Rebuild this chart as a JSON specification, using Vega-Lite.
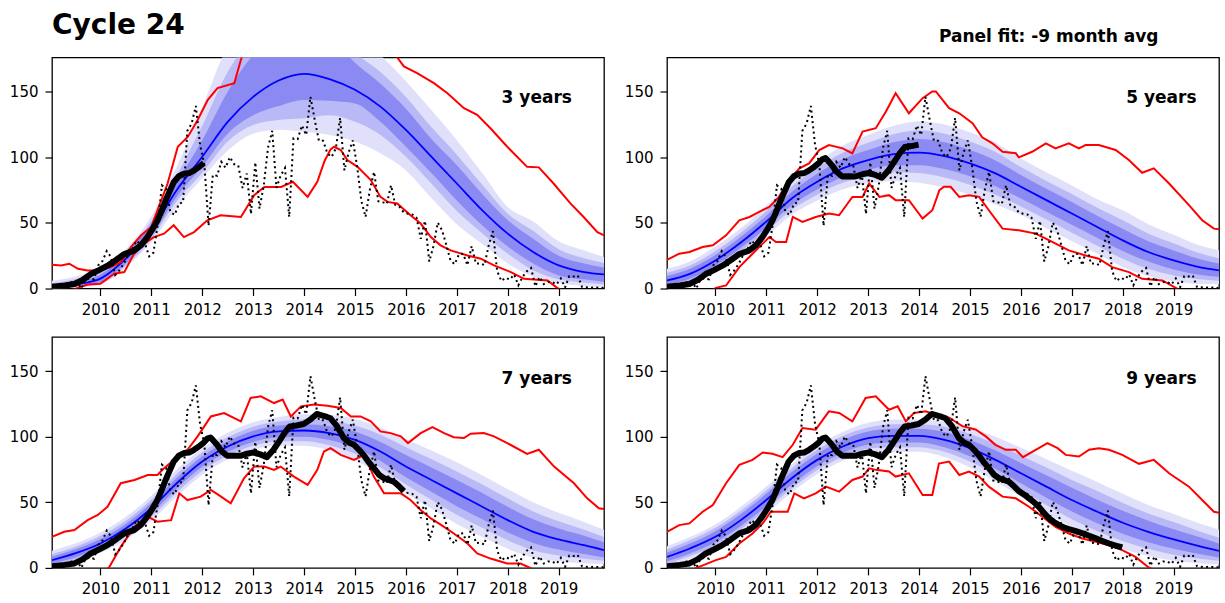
{
"$schema": "https://vega.github.io/schema/vega-lite/v6.json",
"background": "white",
"padding": {"left": 8, "top": 10.5, "right": 0, "bottom": 0},
"columns": 2,
"spacing": {"row": 48.4, "column": 63},
"bounds": "flush",
"datasets": {
"mon": [
{"t":2009.042,"v":2.2},{"t":2009.125,"v":2.3},{"t":2009.208,"v":1.2},{"t":2009.292,"v":1.3},{"t":2009.375,"v":4.8},{"t":2009.458,"v":4.8},{"t":2009.542,"v":5.3},{"t":2009.625,"v":0.0},{"t":2009.708,"v":7.0},{"t":2009.792,"v":7.7},{"t":2009.875,"v":7.0},{"t":2009.958,"v":17.7},
{"t":2010.042,"v":21.0},{"t":2010.125,"v":28.5},{"t":2010.208,"v":24.0},{"t":2010.292,"v":10.4},{"t":2010.375,"v":13.9},{"t":2010.458,"v":18.8},{"t":2010.542,"v":25.2},{"t":2010.625,"v":29.6},{"t":2010.708,"v":36.4},{"t":2010.792,"v":33.6},{"t":2010.875,"v":34.4},{"t":2010.958,"v":24.5},
{"t":2011.042,"v":27.3},{"t":2011.125,"v":48.3},{"t":2011.208,"v":78.6},{"t":2011.292,"v":76.1},{"t":2011.375,"v":58.2},{"t":2011.458,"v":56.1},{"t":2011.542,"v":64.5},{"t":2011.625,"v":65.8},{"t":2011.708,"v":120.1},{"t":2011.792,"v":125.7},{"t":2011.875,"v":139.1},{"t":2011.958,"v":109.3},
{"t":2012.042,"v":94.4},{"t":2012.125,"v":47.8},{"t":2012.208,"v":86.6},{"t":2012.292,"v":85.9},{"t":2012.375,"v":96.5},{"t":2012.458,"v":92.0},{"t":2012.542,"v":100.1},{"t":2012.625,"v":94.8},{"t":2012.708,"v":93.7},{"t":2012.792,"v":76.5},{"t":2012.875,"v":87.6},{"t":2012.958,"v":56.8},
{"t":2013.042,"v":96.1},{"t":2013.125,"v":60.9},{"t":2013.208,"v":78.3},{"t":2013.292,"v":107.3},{"t":2013.375,"v":120.2},{"t":2013.458,"v":76.7},{"t":2013.542,"v":86.2},{"t":2013.625,"v":91.8},{"t":2013.708,"v":54.5},{"t":2013.792,"v":114.4},{"t":2013.875,"v":113.9},{"t":2013.958,"v":124.2},
{"t":2014.042,"v":117.0},{"t":2014.125,"v":146.1},{"t":2014.208,"v":128.7},{"t":2014.292,"v":112.5},{"t":2014.375,"v":112.5},{"t":2014.458,"v":102.9},{"t":2014.542,"v":100.2},{"t":2014.625,"v":106.9},{"t":2014.708,"v":130.0},{"t":2014.792,"v":90.0},{"t":2014.875,"v":103.6},{"t":2014.958,"v":112.9},
{"t":2015.042,"v":93.0},{"t":2015.125,"v":66.7},{"t":2015.208,"v":54.5},{"t":2015.292,"v":75.3},{"t":2015.375,"v":88.8},{"t":2015.458,"v":66.5},{"t":2015.542,"v":65.8},{"t":2015.625,"v":64.4},{"t":2015.708,"v":78.6},{"t":2015.792,"v":63.6},{"t":2015.875,"v":62.2},{"t":2015.958,"v":58.0},
{"t":2016.042,"v":57.0},{"t":2016.125,"v":56.4},{"t":2016.208,"v":54.1},{"t":2016.292,"v":37.9},{"t":2016.375,"v":51.5},{"t":2016.458,"v":20.5},{"t":2016.542,"v":32.4},{"t":2016.625,"v":50.2},{"t":2016.708,"v":44.6},{"t":2016.792,"v":33.4},{"t":2016.875,"v":21.4},{"t":2016.958,"v":18.5},
{"t":2017.042,"v":26.1},{"t":2017.125,"v":26.4},{"t":2017.208,"v":17.7},{"t":2017.292,"v":32.3},{"t":2017.375,"v":18.9},{"t":2017.458,"v":19.2},{"t":2017.542,"v":17.8},{"t":2017.625,"v":32.6},{"t":2017.708,"v":43.7},{"t":2017.792,"v":13.2},{"t":2017.875,"v":5.7},{"t":2017.958,"v":8.2},
{"t":2018.042,"v":6.8},{"t":2018.125,"v":10.7},{"t":2018.208,"v":2.5},{"t":2018.292,"v":8.9},{"t":2018.375,"v":13.1},{"t":2018.458,"v":15.6},{"t":2018.542,"v":1.6},{"t":2018.625,"v":8.7},{"t":2018.708,"v":3.3},{"t":2018.792,"v":4.9},{"t":2018.875,"v":4.9},{"t":2018.958,"v":3.1},
{"t":2019.042,"v":7.7},{"t":2019.125,"v":0.8},{"t":2019.208,"v":9.4},{"t":2019.292,"v":9.1},{"t":2019.375,"v":9.9},{"t":2019.458,"v":1.2},{"t":2019.542,"v":0.9},{"t":2019.625,"v":0.5},{"t":2019.708,"v":1.1},{"t":2019.792,"v":0.4},{"t":2019.875,"v":0.5},{"t":2019.958,"v":1.5}
],
"smo": [
{"t":2009.05,"v":1.3},{"t":2009.3,"v":2.3},{"t":2009.49,"v":3.4},{"t":2009.65,"v":6.5},{"t":2009.81,"v":11},{"t":2009.97,"v":14},{"t":2010.14,"v":17.4},{"t":2010.3,"v":21.5},{"t":2010.47,"v":26.3},{"t":2010.66,"v":28.8},{"t":2010.8,"v":33},{"t":2010.92,"v":39},{"t":2011.02,"v":45},{"t":2011.12,"v":51.8},{"t":2011.2,"v":59},{"t":2011.28,"v":67},{"t":2011.36,"v":74},{"t":2011.44,"v":81},{"t":2011.54,"v":85.5},{"t":2011.64,"v":87.5},{"t":2011.75,"v":88},{"t":2011.84,"v":90},{"t":2011.95,"v":93},{"t":2012.03,"v":95.5},{"t":2012.1,"v":98.5},{"t":2012.16,"v":99.4},{"t":2012.22,"v":97},{"t":2012.29,"v":93.8},{"t":2012.38,"v":89},{"t":2012.49,"v":85.4},{"t":2012.62,"v":85.5},{"t":2012.75,"v":85.4},{"t":2012.88,"v":87},{"t":2013.01,"v":88},{"t":2013.14,"v":86.5},{"t":2013.27,"v":84.4},{"t":2013.4,"v":90},{"t":2013.53,"v":97.6},{"t":2013.62,"v":103},{"t":2013.72,"v":107.8},{"t":2013.85,"v":108.5},{"t":2013.99,"v":109.6},{"t":2014.12,"v":112.9},{"t":2014.25,"v":117.3},{"t":2014.33,"v":116.4},{"t":2014.45,"v":115},{"t":2014.52,"v":114},{"t":2014.65,"v":107.8},{"t":2014.78,"v":99},{"t":2014.88,"v":95.5},{"t":2014.98,"v":93.8},{"t":2015.08,"v":90},{"t":2015.18,"v":85.5},{"t":2015.27,"v":80.5},{"t":2015.37,"v":76},{"t":2015.47,"v":71},{"t":2015.57,"v":68.3},{"t":2015.67,"v":67},{"t":2015.77,"v":65.5},{"t":2015.87,"v":62},{"t":2015.96,"v":58.5},{"t":2016.06,"v":56},{"t":2016.16,"v":53},{"t":2016.26,"v":50},{"t":2016.35,"v":46.6},{"t":2016.45,"v":42},{"t":2016.55,"v":37.8},{"t":2016.65,"v":35},{"t":2016.75,"v":32.6},{"t":2016.85,"v":30.8},{"t":2016.94,"v":29.6},{"t":2017.08,"v":28},{"t":2017.21,"v":26.3},{"t":2017.34,"v":24.5},{"t":2017.47,"v":22.5},{"t":2017.6,"v":20.5},{"t":2017.73,"v":18.6},{"t":2017.86,"v":17},{"t":2017.99,"v":15.6}
],
"fit": [
{"p":3,"t":2009.05,"mu":1,"l1":0.3,"h1":2.5,"l2":0.2,"h2":4,"l3":0,"h3":6},
{"p":3,"t":2009.5,"mu":3,"l1":1.5,"h1":5,"l2":1,"h2":7,"l3":0.5,"h3":9},
{"p":3,"t":2010,"mu":7.5,"l1":5,"h1":10.5,"l2":4,"h2":13,"l3":3,"h3":16},
{"p":3,"t":2010.5,"mu":22.7,"l1":19,"h1":26.5,"l2":17.5,"h2":28.5,"l3":16,"h3":30},
{"p":3,"t":2011,"mu":44.3,"l1":40,"h1":49,"l2":38,"h2":51.5,"l3":35.5,"h3":55},
{"p":3,"t":2011.5,"mu":75,"l1":70,"h1":81,"l2":66.5,"h2":86,"l3":62,"h3":93},
{"p":3,"t":2012,"mu":100.4,"l1":93,"h1":113,"l2":88,"h2":124,"l3":84,"h3":138},
{"p":3,"t":2012.5,"mu":127,"l1":118,"h1":150,"l2":112,"h2":165,"l3":105,"h3":185},
{"p":3,"t":2013,"mu":146,"l1":132,"h1":178,"l2":124.6,"h2":192,"l3":118,"h3":210},
{"p":3,"t":2013.5,"mu":158.5,"l1":139,"h1":195,"l2":128.4,"h2":210,"l3":121,"h3":228},
{"p":3,"t":2014,"mu":163.6,"l1":143.7,"h1":200,"l2":129.7,"h2":215,"l3":119.5,"h3":232},
{"p":3,"t":2014.5,"mu":159.6,"l1":143,"h1":192,"l2":132,"h2":203,"l3":117,"h3":220},
{"p":3,"t":2015,"mu":151.4,"l1":141,"h1":172,"l2":127,"h2":180,"l3":112,"h3":196},
{"p":3,"t":2015.5,"mu":138.6,"l1":127,"h1":156,"l2":117,"h2":165,"l3":103,"h3":178},
{"p":3,"t":2016,"mu":120.8,"l1":108,"h1":137,"l2":100.4,"h2":146,"l3":90,"h3":158},
{"p":3,"t":2016.5,"mu":100.4,"l1":88,"h1":114,"l2":80,"h2":123,"l3":69,"h3":136},
{"p":3,"t":2017,"mu":80,"l1":67,"h1":94,"l2":59,"h2":102,"l3":49,"h3":113},
{"p":3,"t":2017.5,"mu":59.6,"l1":48,"h1":72,"l2":42,"h2":79,"l3":34,"h3":88},
{"p":3,"t":2018,"mu":41.8,"l1":32,"h1":52,"l2":26.5,"h2":57,"l3":19,"h3":62},
{"p":3,"t":2018.5,"mu":27.8,"l1":19,"h1":38,"l2":14,"h2":44,"l3":9,"h3":51},
{"p":3,"t":2019,"mu":17.6,"l1":10,"h1":25,"l2":7,"h2":30,"l3":4,"h3":36},
{"p":3,"t":2019.5,"mu":12.5,"l1":7,"h1":19,"l2":4.5,"h2":23,"l3":2,"h3":29},
{"p":3,"t":2019.89,"mu":10.7,"l1":5,"h1":16,"l2":3,"h2":19.5,"l3":1,"h3":24},
{"p":5,"t":2009.05,"mu":6.1,"l1":3,"h1":9.5,"l2":1.5,"h2":12,"l3":0.5,"h3":15},
{"p":5,"t":2009.5,"mu":11.2,"l1":7.5,"h1":15,"l2":5.5,"h2":17.5,"l3":3.5,"h3":20.5},
{"p":5,"t":2010,"mu":21.4,"l1":17.5,"h1":25.5,"l2":15,"h2":28.5,"l3":12,"h3":32},
{"p":5,"t":2010.5,"mu":35,"l1":31,"h1":39.5,"l2":28.5,"h2":42.5,"l3":25.5,"h3":46},
{"p":5,"t":2011,"mu":51,"l1":46.5,"h1":55.5,"l2":43.5,"h2":59,"l3":40,"h3":63},
{"p":5,"t":2011.5,"mu":68.6,"l1":63.5,"h1":73.5,"l2":60,"h2":77.5,"l3":56,"h3":82},
{"p":5,"t":2012,"mu":81.3,"l1":75.5,"h1":87.5,"l2":71.5,"h2":92,"l3":67,"h3":96},
{"p":5,"t":2012.5,"mu":91.5,"l1":85,"h1":98.5,"l2":80.5,"h2":103.5,"l3":75.5,"h3":109},
{"p":5,"t":2013,"mu":97.9,"l1":90.5,"h1":105.5,"l2":85.5,"h2":111,"l3":80,"h3":117},
{"p":5,"t":2013.5,"mu":102.4,"l1":94,"h1":111.5,"l2":88.5,"h2":117.5,"l3":82,"h3":124},
{"p":5,"t":2014,"mu":103.5,"l1":94,"h1":114,"l2":88,"h2":120.5,"l3":80.5,"h3":127.5},
{"p":5,"t":2014.5,"mu":100.9,"l1":91,"h1":111.5,"l2":84.5,"h2":118,"l3":77,"h3":125},
{"p":5,"t":2015,"mu":95.3,"l1":85.5,"h1":105.5,"l2":79,"h2":112,"l3":71.5,"h3":119},
{"p":5,"t":2015.5,"mu":87.7,"l1":78,"h1":97.5,"l2":71.5,"h2":104,"l3":64,"h3":111},
{"p":5,"t":2016,"mu":77.5,"l1":68.5,"h1":86.5,"l2":62.5,"h2":92.5,"l3":56,"h3":99},
{"p":5,"t":2016.5,"mu":67.3,"l1":58.5,"h1":76,"l2":52.5,"h2":82,"l3":46,"h3":88.5},
{"p":5,"t":2017,"mu":57.1,"l1":48.5,"h1":66,"l2":42.5,"h2":72,"l3":36,"h3":78.5},
{"p":5,"t":2017.5,"mu":46.9,"l1":38.5,"h1":55.5,"l2":32.5,"h2":61.5,"l3":26.5,"h3":68},
{"p":5,"t":2018,"mu":36.7,"l1":28.5,"h1":45.5,"l2":22.7,"h2":52,"l3":16.3,"h3":59.6},
{"p":5,"t":2018.5,"mu":27.8,"l1":20.5,"h1":36,"l2":15,"h2":42,"l3":9.5,"h3":49},
{"p":5,"t":2019,"mu":21.4,"l1":14.5,"h1":29,"l2":10,"h2":34.5,"l3":5.5,"h3":41},
{"p":5,"t":2019.5,"mu":16.3,"l1":10.5,"h1":22.5,"l2":7,"h2":27,"l3":3.5,"h3":33},
{"p":5,"t":2019.89,"mu":13.8,"l1":9,"h1":19,"l2":6,"h2":23,"l3":3.5,"h3":29},
{"p":7,"t":2009.05,"mu":5.9,"l1":3.5,"h1":8.5,"l2":2,"h2":10.5,"l3":0.5,"h3":13},
{"p":7,"t":2009.5,"mu":11,"l1":8,"h1":14,"l2":6.5,"h2":16,"l3":4.5,"h3":18.5},
{"p":7,"t":2010,"mu":18.6,"l1":15.5,"h1":22,"l2":13.5,"h2":24.5,"l3":11.5,"h3":27},
{"p":7,"t":2010.5,"mu":30,"l1":26.5,"h1":33.5,"l2":24,"h2":36,"l3":21.5,"h3":39},
{"p":7,"t":2011,"mu":45.4,"l1":41.5,"h1":49.5,"l2":39,"h2":52,"l3":36,"h3":55},
{"p":7,"t":2011.5,"mu":64.5,"l1":60.5,"h1":68.5,"l2":57.5,"h2":71.5,"l3":54.5,"h3":75},
{"p":7,"t":2012,"mu":81,"l1":77,"h1":85,"l2":74,"h2":88,"l3":71,"h3":91},
{"p":7,"t":2012.5,"mu":92.5,"l1":88.5,"h1":96.5,"l2":85.5,"h2":99.5,"l3":82.5,"h3":103},
{"p":7,"t":2013,"mu":100.2,"l1":96,"h1":104.5,"l2":93,"h2":107.5,"l3":90,"h3":111},
{"p":7,"t":2013.5,"mu":104,"l1":99.5,"h1":108.5,"l2":96.5,"h2":111.5,"l3":93,"h3":115},
{"p":7,"t":2014,"mu":104.7,"l1":100,"h1":109.5,"l2":96.5,"h2":113,"l3":93,"h3":117},
{"p":7,"t":2014.5,"mu":102.7,"l1":97.5,"h1":108,"l2":93.5,"h2":112,"l3":89.5,"h3":116.5},
{"p":7,"t":2015,"mu":97.6,"l1":91.5,"h1":104,"l2":87,"h2":108.5,"l3":82,"h3":113.5},
{"p":7,"t":2015.5,"mu":88.7,"l1":81.5,"h1":96,"l2":76.5,"h2":101.5,"l3":71,"h3":107},
{"p":7,"t":2016,"mu":77.2,"l1":69,"h1":86,"l2":63.5,"h2":92,"l3":57,"h3":98},
{"p":7,"t":2016.5,"mu":67,"l1":58,"h1":76.5,"l2":52,"h2":83,"l3":45,"h3":89.5},
{"p":7,"t":2017,"mu":56.8,"l1":47,"h1":67,"l2":40.5,"h2":73.5,"l3":33.5,"h3":80.5},
{"p":7,"t":2017.5,"mu":46.6,"l1":37,"h1":57,"l2":30.5,"h2":63.5,"l3":23.5,"h3":70.5},
{"p":7,"t":2018,"mu":36.4,"l1":27,"h1":46.5,"l2":21,"h2":53,"l3":14.5,"h3":60},
{"p":7,"t":2018.5,"mu":27.5,"l1":19,"h1":37,"l2":13.5,"h2":43,"l3":8,"h3":50},
{"p":7,"t":2019,"mu":21.7,"l1":14,"h1":30,"l2":9.5,"h2":35.5,"l3":5,"h3":42},
{"p":7,"t":2019.5,"mu":17.3,"l1":10.5,"h1":24.5,"l2":7,"h2":29,"l3":3.5,"h3":35},
{"p":7,"t":2019.89,"mu":13.5,"l1":8,"h1":19.5,"l2":5.5,"h2":23.5,"l3":3,"h3":29},
{"p":9,"t":2009.05,"mu":8.4,"l1":5,"h1":11.5,"l2":3,"h2":14,"l3":1.5,"h3":16.5},
{"p":9,"t":2009.5,"mu":14.8,"l1":11,"h1":18.5,"l2":9,"h2":21,"l3":7,"h3":23.5},
{"p":9,"t":2010,"mu":23.7,"l1":19.5,"h1":28,"l2":17,"h2":30.5,"l3":15,"h3":33},
{"p":9,"t":2010.5,"mu":36.4,"l1":32,"h1":41,"l2":29.5,"h2":43.5,"l3":27,"h3":46.5},
{"p":9,"t":2011,"mu":51.7,"l1":47,"h1":56.5,"l2":44.5,"h2":59,"l3":41.5,"h3":62},
{"p":9,"t":2011.5,"mu":68.3,"l1":63.5,"h1":73,"l2":60.5,"h2":76,"l3":57.5,"h3":79},
{"p":9,"t":2012,"mu":82.3,"l1":77.5,"h1":87,"l2":74.5,"h2":90,"l3":71.5,"h3":93},
{"p":9,"t":2012.5,"mu":92.5,"l1":87.5,"h1":97.5,"l2":84.5,"h2":100.5,"l3":81.5,"h3":103.5},
{"p":9,"t":2013,"mu":98.9,"l1":94,"h1":104,"l2":91,"h2":107,"l3":87.5,"h3":110.5},
{"p":9,"t":2013.5,"mu":100.6,"l1":95.5,"h1":106,"l2":92,"h2":109.5,"l3":88.5,"h3":113},
{"p":9,"t":2014,"mu":100.6,"l1":95.5,"h1":106,"l2":92,"h2":109.5,"l3":88.5,"h3":113},
{"p":9,"t":2014.5,"mu":97.5,"l1":92,"h1":103.5,"l2":88.5,"h2":107.5,"l3":84.5,"h3":111.5},
{"p":9,"t":2015,"mu":91.2,"l1":85,"h1":97.5,"l2":81,"h2":102,"l3":76.5,"h3":106.5},
{"p":9,"t":2015.5,"mu":82.3,"l1":75.5,"h1":89.5,"l2":71,"h2":94.5,"l3":66,"h3":100},
{"p":9,"t":2016,"mu":72.1,"l1":64.5,"h1":80,"l2":59.5,"h2":85.5,"l3":54,"h3":91.5},
{"p":9,"t":2016.5,"mu":61.9,"l1":53.5,"h1":70.5,"l2":48,"h2":76.5,"l3":42,"h3":83},
{"p":9,"t":2017,"mu":51.7,"l1":43,"h1":61,"l2":37,"h2":67,"l3":31,"h3":74},
{"p":9,"t":2017.5,"mu":42.8,"l1":34,"h1":52,"l2":28,"h2":58.5,"l3":22,"h3":65.5},
{"p":9,"t":2018,"mu":34.4,"l1":26,"h1":43.5,"l2":20.5,"h2":49.5,"l3":14.5,"h3":56.5},
{"p":9,"t":2018.5,"mu":27.5,"l1":19.5,"h1":36,"l2":14.5,"h2":41.5,"l3":9,"h3":48},
{"p":9,"t":2019,"mu":21.7,"l1":14.5,"h1":29.5,"l2":10,"h2":35,"l3":5.5,"h3":41},
{"p":9,"t":2019.5,"mu":16.6,"l1":10.5,"h1":23.5,"l2":7,"h2":28,"l3":3.5,"h3":34},
{"p":9,"t":2019.89,"mu":13,"l1":8,"h1":18.5,"l2":5.5,"h2":23,"l3":2.5,"h3":29}
],
"red": [
{"p":3,"k":"h","t":2009.05,"v":18.1},{"p":3,"k":"h","t":2009.23,"v":17.6},{"p":3,"k":"h","t":2009.39,"v":18.9},{"p":3,"k":"h","t":2009.56,"v":15},{"p":3,"k":"h","t":2009.75,"v":13.8},{"p":3,"k":"h","t":2010.0,"v":13.8},{"p":3,"k":"h","t":2010.2,"v":16.3},{"p":3,"k":"h","t":2010.4,"v":20.1},{"p":3,"k":"h","t":2010.6,"v":31.6},{"p":3,"k":"h","t":2010.8,"v":40.5},{"p":3,"k":"h","t":2011.0,"v":46.9},{"p":3,"k":"h","t":2011.12,"v":59.6},{"p":3,"k":"h","t":2011.32,"v":80},{"p":3,"k":"h","t":2011.52,"v":108},{"p":3,"k":"h","t":2011.72,"v":115.7},{"p":3,"k":"h","t":2011.91,"v":128.4},{"p":3,"k":"h","t":2012.11,"v":143.7},{"p":3,"k":"h","t":2012.3,"v":152.7},{"p":3,"k":"h","t":2012.63,"v":156.5},{"p":3,"k":"h","t":2012.76,"v":174.3},{"p":3,"k":"h","t":2012.85,"v":185},{"p":3,"k":"h","t":2013.3,"v":205},{"p":3,"k":"h","t":2014.3,"v":220},{"p":3,"k":"h","t":2015.3,"v":200},{"p":3,"k":"h","t":2015.75,"v":180},{"p":3,"k":"h","t":2015.83,"v":176},{"p":3,"k":"h","t":2015.96,"v":169.2},{"p":3,"k":"h","t":2016.22,"v":164.1},{"p":3,"k":"h","t":2016.55,"v":156.5},{"p":3,"k":"h","t":2016.81,"v":148.9},{"p":3,"k":"h","t":2017.14,"v":137.4},{"p":3,"k":"h","t":2017.4,"v":132.3},{"p":3,"k":"h","t":2017.66,"v":122.1},{"p":3,"k":"h","t":2017.99,"v":108},{"p":3,"k":"h","t":2018.38,"v":92.7},{"p":3,"k":"h","t":2018.61,"v":92.3},{"p":3,"k":"h","t":2018.9,"v":80},{"p":3,"k":"h","t":2019.23,"v":64.8},{"p":3,"k":"h","t":2019.49,"v":54.5},{"p":3,"k":"h","t":2019.76,"v":43},{"p":3,"k":"h","t":2019.89,"v":40.5},
{"p":3,"k":"l","t":2009.3,"v":-3},{"p":3,"k":"l","t":2009.56,"v":0.5},{"p":3,"k":"l","t":2009.75,"v":3},{"p":3,"k":"l","t":2010.0,"v":3.6},{"p":3,"k":"l","t":2010.27,"v":11.2},{"p":3,"k":"l","t":2010.47,"v":12.5},{"p":3,"k":"l","t":2010.66,"v":26.5},{"p":3,"k":"l","t":2010.86,"v":34.2},{"p":3,"k":"l","t":2011.05,"v":39.2},{"p":3,"k":"l","t":2011.25,"v":41.8},{"p":3,"k":"l","t":2011.44,"v":48.2},{"p":3,"k":"l","t":2011.64,"v":39.2},{"p":3,"k":"l","t":2011.84,"v":43},{"p":3,"k":"l","t":2012.1,"v":52},{"p":3,"k":"l","t":2012.36,"v":55.8},{"p":3,"k":"l","t":2012.76,"v":54.5},{"p":3,"k":"l","t":2013.02,"v":71.1},{"p":3,"k":"l","t":2013.22,"v":77.4},{"p":3,"k":"l","t":2013.55,"v":77.4},{"p":3,"k":"l","t":2013.78,"v":81.3},{"p":3,"k":"l","t":2014.07,"v":69.8},{"p":3,"k":"l","t":2014.26,"v":81.3},{"p":3,"k":"l","t":2014.4,"v":97},{"p":3,"k":"l","t":2014.52,"v":106},{"p":3,"k":"l","t":2014.59,"v":108},{"p":3,"k":"l","t":2014.72,"v":105.5},{"p":3,"k":"l","t":2014.85,"v":97.9},{"p":3,"k":"l","t":2015.05,"v":92.7},{"p":3,"k":"l","t":2015.31,"v":82.6},{"p":3,"k":"l","t":2015.5,"v":69.8},{"p":3,"k":"l","t":2015.64,"v":66},{"p":3,"k":"l","t":2015.83,"v":64.8},{"p":3,"k":"l","t":2016.09,"v":55.8},{"p":3,"k":"l","t":2016.29,"v":49.5},{"p":3,"k":"l","t":2016.49,"v":39.2},{"p":3,"k":"l","t":2016.68,"v":32.9},{"p":3,"k":"l","t":2016.88,"v":29},{"p":3,"k":"l","t":2017.21,"v":25.2},{"p":3,"k":"l","t":2017.47,"v":22.7},{"p":3,"k":"l","t":2017.73,"v":17.6},{"p":3,"k":"l","t":2018.06,"v":12.5},{"p":3,"k":"l","t":2018.32,"v":7.4},{"p":3,"k":"l","t":2018.78,"v":6.1},{"p":3,"k":"l","t":2018.97,"v":0.5},{"p":3,"k":"l","t":2019.3,"v":-6},
{"p":5,"k":"h","t":2009.05,"v":21.9},{"p":5,"k":"h","t":2009.29,"v":26.5},{"p":5,"k":"h","t":2009.49,"v":27.8},{"p":5,"k":"h","t":2009.75,"v":31.6},{"p":5,"k":"h","t":2009.95,"v":32.9},{"p":5,"k":"h","t":2010.21,"v":40.5},{"p":5,"k":"h","t":2010.47,"v":52},{"p":5,"k":"h","t":2010.67,"v":54.5},{"p":5,"k":"h","t":2010.86,"v":58.4},{"p":5,"k":"h","t":2011.06,"v":62.2},{"p":5,"k":"h","t":2011.25,"v":69.8},{"p":5,"k":"h","t":2011.45,"v":82.6},{"p":5,"k":"h","t":2011.65,"v":91.5},{"p":5,"k":"h","t":2011.84,"v":95.3},{"p":5,"k":"h","t":2012.04,"v":105.5},{"p":5,"k":"h","t":2012.23,"v":109.3},{"p":5,"k":"h","t":2012.5,"v":106.8},{"p":5,"k":"h","t":2012.69,"v":103},{"p":5,"k":"h","t":2012.89,"v":119.5},{"p":5,"k":"h","t":2013.15,"v":122.1},{"p":5,"k":"h","t":2013.35,"v":134.8},{"p":5,"k":"h","t":2013.54,"v":148.8},{"p":5,"k":"h","t":2013.8,"v":133.5},{"p":5,"k":"h","t":2014.07,"v":145},{"p":5,"k":"h","t":2014.26,"v":150.1},{"p":5,"k":"h","t":2014.33,"v":150.1},{"p":5,"k":"h","t":2014.59,"v":137.4},{"p":5,"k":"h","t":2014.79,"v":133.5},{"p":5,"k":"h","t":2015.05,"v":125.9},{"p":5,"k":"h","t":2015.24,"v":115.2},{"p":5,"k":"h","t":2015.44,"v":110.6},{"p":5,"k":"h","t":2015.64,"v":104.2},{"p":5,"k":"h","t":2015.9,"v":103},{"p":5,"k":"h","t":2015.96,"v":99.9},{"p":5,"k":"h","t":2016.22,"v":104.2},{"p":5,"k":"h","t":2016.49,"v":110.6},{"p":5,"k":"h","t":2016.68,"v":106.8},{"p":5,"k":"h","t":2016.94,"v":110.6},{"p":5,"k":"h","t":2017.14,"v":106.8},{"p":5,"k":"h","t":2017.27,"v":109.3},{"p":5,"k":"h","t":2017.53,"v":109.3},{"p":5,"k":"h","t":2017.86,"v":105.5},{"p":5,"k":"h","t":2018.12,"v":97.9},{"p":5,"k":"h","t":2018.38,"v":88.2},{"p":5,"k":"h","t":2018.61,"v":91.5},{"p":5,"k":"h","t":2018.91,"v":80},{"p":5,"k":"h","t":2019.3,"v":63.5},{"p":5,"k":"h","t":2019.56,"v":52},{"p":5,"k":"h","t":2019.79,"v":45.6},{"p":5,"k":"h","t":2019.89,"v":45.1},
{"p":5,"k":"l","t":2009.8,"v":-5},{"p":5,"k":"l","t":2010.01,"v":0.5},{"p":5,"k":"l","t":2010.21,"v":2.3},{"p":5,"k":"l","t":2010.47,"v":16.3},{"p":5,"k":"l","t":2010.73,"v":26.5},{"p":5,"k":"l","t":2010.93,"v":34.2},{"p":5,"k":"l","t":2011.06,"v":39.2},{"p":5,"k":"l","t":2011.19,"v":35.4},{"p":5,"k":"l","t":2011.39,"v":35.4},{"p":5,"k":"l","t":2011.52,"v":54.5},{"p":5,"k":"l","t":2011.71,"v":50.7},{"p":5,"k":"l","t":2011.97,"v":54.5},{"p":5,"k":"l","t":2012.23,"v":57.1},{"p":5,"k":"l","t":2012.43,"v":55.8},{"p":5,"k":"l","t":2012.69,"v":69.8},{"p":5,"k":"l","t":2012.89,"v":69.8},{"p":5,"k":"l","t":2013.02,"v":80},{"p":5,"k":"l","t":2013.22,"v":69.8},{"p":5,"k":"l","t":2013.41,"v":71.1},{"p":5,"k":"l","t":2013.54,"v":67.3},{"p":5,"k":"l","t":2013.8,"v":67.3},{"p":5,"k":"l","t":2014.07,"v":53.3},{"p":5,"k":"l","t":2014.26,"v":59.6},{"p":5,"k":"l","t":2014.4,"v":75},{"p":5,"k":"l","t":2014.49,"v":77.5},{"p":5,"k":"l","t":2014.62,"v":77.5},{"p":5,"k":"l","t":2014.79,"v":69.8},{"p":5,"k":"l","t":2014.98,"v":71.1},{"p":5,"k":"l","t":2015.18,"v":69.8},{"p":5,"k":"l","t":2015.37,"v":59.6},{"p":5,"k":"l","t":2015.64,"v":45.6},{"p":5,"k":"l","t":2015.96,"v":44.3},{"p":5,"k":"l","t":2016.29,"v":41.8},{"p":5,"k":"l","t":2016.49,"v":38},{"p":5,"k":"l","t":2016.75,"v":32.9},{"p":5,"k":"l","t":2016.94,"v":29},{"p":5,"k":"l","t":2017.27,"v":25.2},{"p":5,"k":"l","t":2017.53,"v":22.7},{"p":5,"k":"l","t":2017.79,"v":16.3},{"p":5,"k":"l","t":2018.12,"v":12.5},{"p":5,"k":"l","t":2018.38,"v":7.4},{"p":5,"k":"l","t":2018.78,"v":6.1},{"p":5,"k":"l","t":2019.04,"v":0.5},{"p":5,"k":"l","t":2019.3,"v":-5},
{"p":7,"k":"h","t":2009.05,"v":23.7},{"p":7,"k":"h","t":2009.29,"v":27.5},{"p":7,"k":"h","t":2009.49,"v":28.8},{"p":7,"k":"h","t":2009.75,"v":36.4},{"p":7,"k":"h","t":2009.95,"v":40.3},{"p":7,"k":"h","t":2010.14,"v":46.6},{"p":7,"k":"h","t":2010.4,"v":64.5},{"p":7,"k":"h","t":2010.67,"v":67},{"p":7,"k":"h","t":2010.93,"v":70.8},{"p":7,"k":"h","t":2011.12,"v":70.8},{"p":7,"k":"h","t":2011.25,"v":75.9},{"p":7,"k":"h","t":2011.45,"v":82.3},{"p":7,"k":"h","t":2011.71,"v":90},{"p":7,"k":"h","t":2011.91,"v":100.2},{"p":7,"k":"h","t":2012.17,"v":115.4},{"p":7,"k":"h","t":2012.43,"v":118},{"p":7,"k":"h","t":2012.76,"v":111.6},{"p":7,"k":"h","t":2012.95,"v":129.5},{"p":7,"k":"h","t":2013.15,"v":130.7},{"p":7,"k":"h","t":2013.41,"v":125.6},{"p":7,"k":"h","t":2013.58,"v":128.2},{"p":7,"k":"h","t":2013.74,"v":115.4},{"p":7,"k":"h","t":2013.94,"v":123.1},{"p":7,"k":"h","t":2014.2,"v":124.4},{"p":7,"k":"h","t":2014.46,"v":123.6},{"p":7,"k":"h","t":2014.72,"v":121.8},{"p":7,"k":"h","t":2014.92,"v":115.4},{"p":7,"k":"h","t":2015.11,"v":115.4},{"p":7,"k":"h","t":2015.31,"v":111.6},{"p":7,"k":"h","t":2015.5,"v":104},{"p":7,"k":"h","t":2015.7,"v":102.7},{"p":7,"k":"h","t":2015.9,"v":100.2},{"p":7,"k":"h","t":2016.04,"v":95.1},{"p":7,"k":"h","t":2016.29,"v":102.7},{"p":7,"k":"h","t":2016.52,"v":107.3},{"p":7,"k":"h","t":2016.75,"v":102.7},{"p":7,"k":"h","t":2016.94,"v":99.6},{"p":7,"k":"h","t":2017.14,"v":98.9},{"p":7,"k":"h","t":2017.27,"v":102.2},{"p":7,"k":"h","t":2017.53,"v":102.7},{"p":7,"k":"h","t":2017.73,"v":100.2},{"p":7,"k":"h","t":2017.99,"v":95.1},{"p":7,"k":"h","t":2018.38,"v":86.9},{"p":7,"k":"h","t":2018.61,"v":90},{"p":7,"k":"h","t":2018.91,"v":77.2},{"p":7,"k":"h","t":2019.3,"v":64.5},{"p":7,"k":"h","t":2019.56,"v":53},{"p":7,"k":"h","t":2019.79,"v":45.4},{"p":7,"k":"h","t":2019.89,"v":44.9},
{"p":7,"k":"l","t":2009.95,"v":-5},{"p":7,"k":"l","t":2010.17,"v":0.3},{"p":7,"k":"l","t":2010.4,"v":16},{"p":7,"k":"l","t":2010.67,"v":31.3},{"p":7,"k":"l","t":2010.93,"v":39},{"p":7,"k":"l","t":2011.12,"v":35.2},{"p":7,"k":"l","t":2011.39,"v":36.4},{"p":7,"k":"l","t":2011.55,"v":56.8},{"p":7,"k":"l","t":2011.71,"v":51.7},{"p":7,"k":"l","t":2011.97,"v":54.3},{"p":7,"k":"l","t":2012.17,"v":59.4},{"p":7,"k":"l","t":2012.37,"v":54.3},{"p":7,"k":"l","t":2012.56,"v":49.2},{"p":7,"k":"l","t":2012.82,"v":68.3},{"p":7,"k":"l","t":2013.02,"v":77.2},{"p":7,"k":"l","t":2013.22,"v":77.2},{"p":7,"k":"l","t":2013.41,"v":74.7},{"p":7,"k":"l","t":2013.54,"v":77.2},{"p":7,"k":"l","t":2013.8,"v":69.6},{"p":7,"k":"l","t":2014.07,"v":63.2},{"p":7,"k":"l","t":2014.26,"v":74.7},{"p":7,"k":"l","t":2014.39,"v":88.7},{"p":7,"k":"l","t":2014.52,"v":91.2},{"p":7,"k":"l","t":2014.72,"v":86.1},{"p":7,"k":"l","t":2014.98,"v":82.3},{"p":7,"k":"l","t":2015.18,"v":86.1},{"p":7,"k":"l","t":2015.37,"v":69.6},{"p":7,"k":"l","t":2015.57,"v":56.8},{"p":7,"k":"l","t":2015.9,"v":56.8},{"p":7,"k":"l","t":2016.09,"v":51.7},{"p":7,"k":"l","t":2016.29,"v":44.1},{"p":7,"k":"l","t":2016.49,"v":37.7},{"p":7,"k":"l","t":2016.75,"v":31.3},{"p":7,"k":"l","t":2016.94,"v":26.2},{"p":7,"k":"l","t":2017.21,"v":18.6},{"p":7,"k":"l","t":2017.4,"v":11},{"p":7,"k":"l","t":2017.66,"v":7.1},{"p":7,"k":"l","t":2017.99,"v":3.3},{"p":7,"k":"l","t":2018.25,"v":3.3},{"p":7,"k":"l","t":2018.42,"v":0.3},{"p":7,"k":"l","t":2018.7,"v":-5},
{"p":9,"k":"h","t":2009.05,"v":27.5},{"p":9,"k":"h","t":2009.29,"v":32.6},{"p":9,"k":"h","t":2009.49,"v":33.9},{"p":9,"k":"h","t":2009.75,"v":42.8},{"p":9,"k":"h","t":2009.95,"v":47.9},{"p":9,"k":"h","t":2010.21,"v":64.5},{"p":9,"k":"h","t":2010.47,"v":78.5},{"p":9,"k":"h","t":2010.73,"v":82.3},{"p":9,"k":"h","t":2010.93,"v":87.9},{"p":9,"k":"h","t":2011.12,"v":86.9},{"p":9,"k":"h","t":2011.32,"v":84.4},{"p":9,"k":"h","t":2011.52,"v":93.8},{"p":9,"k":"h","t":2011.71,"v":106.5},{"p":9,"k":"h","t":2011.97,"v":105.3},{"p":9,"k":"h","t":2012.23,"v":119.3},{"p":9,"k":"h","t":2012.43,"v":118},{"p":9,"k":"h","t":2012.69,"v":111.6},{"p":9,"k":"h","t":2012.95,"v":129.5},{"p":9,"k":"h","t":2013.15,"v":130.7},{"p":9,"k":"h","t":2013.41,"v":120.5},{"p":9,"k":"h","t":2013.58,"v":123.1},{"p":9,"k":"h","t":2013.74,"v":111.6},{"p":9,"k":"h","t":2013.9,"v":118},{"p":9,"k":"h","t":2014.13,"v":119.3},{"p":9,"k":"h","t":2014.33,"v":116.5},{"p":9,"k":"h","t":2014.59,"v":114.4},{"p":9,"k":"h","t":2014.85,"v":108},{"p":9,"k":"h","t":2015.11,"v":105.5},{"p":9,"k":"h","t":2015.31,"v":100.2},{"p":9,"k":"h","t":2015.5,"v":93.8},{"p":9,"k":"h","t":2015.7,"v":90},{"p":9,"k":"h","t":2015.9,"v":90},{"p":9,"k":"h","t":2016.04,"v":84.4},{"p":9,"k":"h","t":2016.29,"v":90},{"p":9,"k":"h","t":2016.52,"v":95.1},{"p":9,"k":"h","t":2016.72,"v":91.2},{"p":9,"k":"h","t":2016.88,"v":86.1},{"p":9,"k":"h","t":2017.14,"v":84.9},{"p":9,"k":"h","t":2017.34,"v":90},{"p":9,"k":"h","t":2017.53,"v":91.2},{"p":9,"k":"h","t":2017.73,"v":90},{"p":9,"k":"h","t":2017.99,"v":86.1},{"p":9,"k":"h","t":2018.32,"v":79.3},{"p":9,"k":"h","t":2018.61,"v":82.3},{"p":9,"k":"h","t":2018.91,"v":72.1},{"p":9,"k":"h","t":2019.3,"v":61.9},{"p":9,"k":"h","t":2019.56,"v":51.7},{"p":9,"k":"h","t":2019.79,"v":42.8},{"p":9,"k":"h","t":2019.89,"v":42},
{"p":9,"k":"l","t":2009.45,"v":-3},{"p":9,"k":"l","t":2009.68,"v":0.8},{"p":9,"k":"l","t":2010.01,"v":5.9},{"p":9,"k":"l","t":2010.21,"v":8.4},{"p":9,"k":"l","t":2010.47,"v":18.6},{"p":9,"k":"l","t":2010.73,"v":26.2},{"p":9,"k":"l","t":2010.93,"v":33.9},{"p":9,"k":"l","t":2011.09,"v":42.8},{"p":9,"k":"l","t":2011.29,"v":42.8},{"p":9,"k":"l","t":2011.42,"v":42.8},{"p":9,"k":"l","t":2011.55,"v":56.8},{"p":9,"k":"l","t":2011.74,"v":53},{"p":9,"k":"l","t":2011.97,"v":56.8},{"p":9,"k":"l","t":2012.17,"v":61.9},{"p":9,"k":"l","t":2012.43,"v":58.1},{"p":9,"k":"l","t":2012.69,"v":67},{"p":9,"k":"l","t":2012.89,"v":69.6},{"p":9,"k":"l","t":2013.02,"v":75.9},{"p":9,"k":"l","t":2013.15,"v":74.7},{"p":9,"k":"l","t":2013.41,"v":73.4},{"p":9,"k":"l","t":2013.54,"v":69.6},{"p":9,"k":"l","t":2013.8,"v":72.1},{"p":9,"k":"l","t":2014.07,"v":55.6},{"p":9,"k":"l","t":2014.26,"v":55.6},{"p":9,"k":"l","t":2014.39,"v":79.5},{"p":9,"k":"l","t":2014.59,"v":81},{"p":9,"k":"l","t":2014.79,"v":70.8},{"p":9,"k":"l","t":2014.98,"v":73.4},{"p":9,"k":"l","t":2015.18,"v":69.6},{"p":9,"k":"l","t":2015.37,"v":61.9},{"p":9,"k":"l","t":2015.64,"v":54.3},{"p":9,"k":"l","t":2015.9,"v":53},{"p":9,"k":"l","t":2016.16,"v":46.6},{"p":9,"k":"l","t":2016.42,"v":39},{"p":9,"k":"l","t":2016.68,"v":31.3},{"p":9,"k":"l","t":2016.94,"v":26.2},{"p":9,"k":"l","t":2017.21,"v":22.4},{"p":9,"k":"l","t":2017.47,"v":19.9},{"p":9,"k":"l","t":2017.73,"v":17.3},{"p":9,"k":"l","t":2017.99,"v":13.5},{"p":9,"k":"l","t":2018.25,"v":8.4},{"p":9,"k":"l","t":2018.51,"v":0.3},{"p":9,"k":"l","t":2018.8,"v":-5}
]
},
"concat": [
{
"width": 552, "height": 231,
"title": {"text": "Cycle 24", "anchor": "start", "frame": "group", "fontSize": 28, "fontWeight": "bold", "baseline": "alphabetic", "offset": -4, "color": "#000000", "font": "DejaVu Sans"},
"layer": [
{"data": {"name": "fit"}, "transform": [{"filter": "datum.p == 3"}], "mark": {"type": "area", "color": "#e0e0fb", "clip": true, "interpolate": "monotone"}, "encoding": {"x": {"field": "t", "type": "quantitative", "title": null, "scale": {"domain": [2009.05, 2019.89], "nice": false, "zero": false}, "axis": {"values": [2010,2011,2012,2013,2014,2015,2016,2017,2018,2019], "format": "d"}}, "y": {"field": "l3", "type": "quantitative", "title": null, "scale": {"domain": [0, 176], "nice": false}, "axis": {"values": [0, 50, 100, 150]}}, "y2": {"field": "h3"}}},
{"data": {"name": "fit"}, "transform": [{"filter": "datum.p == 3"}], "mark": {"type": "area", "color": "#b9b9f7", "clip": true, "interpolate": "monotone"}, "encoding": {"x": {"field": "t", "type": "quantitative", "title": null}, "y": {"field": "l2", "type": "quantitative", "title": null}, "y2": {"field": "h2"}}},
{"data": {"name": "fit"}, "transform": [{"filter": "datum.p == 3"}], "mark": {"type": "area", "color": "#8a8af2", "clip": true, "interpolate": "monotone"}, "encoding": {"x": {"field": "t", "type": "quantitative", "title": null}, "y": {"field": "l1", "type": "quantitative", "title": null}, "y2": {"field": "h1"}}},
{"data": {"name": "fit"}, "transform": [{"filter": "datum.p == 3"}], "mark": {"type": "line", "color": "#0000ff", "strokeWidth": 1.8, "clip": true, "interpolate": "monotone"}, "encoding": {"x": {"field": "t", "type": "quantitative", "title": null}, "y": {"field": "mu", "type": "quantitative", "title": null}}},
{"data": {"name": "red"}, "transform": [{"filter": "datum.p == 3"}], "mark": {"type": "line", "color": "#ff0000", "strokeWidth": 2, "clip": true}, "encoding": {"x": {"field": "t", "type": "quantitative", "title": null}, "y": {"field": "v", "type": "quantitative", "title": null}, "detail": {"field": "k", "type": "nominal"}}},
{"data": {"name": "mon"}, "mark": {"type": "line", "color": "#000000", "strokeWidth": 2, "strokeDash": [2, 3.3], "clip": true}, "encoding": {"x": {"field": "t", "type": "quantitative", "title": null}, "y": {"field": "v", "type": "quantitative", "title": null}}},
{"data": {"name": "smo"}, "transform": [{"filter": "datum.t <= 2012.05"}], "mark": {"type": "line", "color": "#000000", "strokeWidth": 6, "clip": true, "strokeJoin": "round"}, "encoding": {"x": {"field": "t", "type": "quantitative", "title": null}, "y": {"field": "v", "type": "quantitative", "title": null}}},
{"data": {"values": [{"label": "3 years"}]}, "mark": {"type": "text", "fontSize": 17, "fontWeight": "bold", "align": "right", "baseline": "middle", "fill": "#000000", "font": "DejaVu Sans"}, "encoding": {"x": {"datum": 2019.26, "type": "quantitative"}, "y": {"datum": 145.5, "type": "quantitative"}, "text": {"field": "label", "type": "nominal"}}}
]
},
{
"width": 552, "height": 231,
"title": {"text": "Panel fit: -9 month avg", "anchor": "start", "frame": "group", "dx": 272, "fontSize": 17, "fontWeight": "bold", "baseline": "alphabetic", "offset": -1, "color": "#000000", "font": "DejaVu Sans"},
"layer": [
{"data": {"name": "fit"}, "transform": [{"filter": "datum.p == 5"}], "mark": {"type": "area", "color": "#e0e0fb", "clip": true, "interpolate": "monotone"}, "encoding": {"x": {"field": "t", "type": "quantitative", "title": null, "scale": {"domain": [2009.05, 2019.89], "nice": false, "zero": false}, "axis": {"values": [2010,2011,2012,2013,2014,2015,2016,2017,2018,2019], "format": "d"}}, "y": {"field": "l3", "type": "quantitative", "title": null, "scale": {"domain": [0, 176], "nice": false}, "axis": {"values": [0, 50, 100, 150]}}, "y2": {"field": "h3"}}},
{"data": {"name": "fit"}, "transform": [{"filter": "datum.p == 5"}], "mark": {"type": "area", "color": "#b9b9f7", "clip": true, "interpolate": "monotone"}, "encoding": {"x": {"field": "t", "type": "quantitative", "title": null}, "y": {"field": "l2", "type": "quantitative", "title": null}, "y2": {"field": "h2"}}},
{"data": {"name": "fit"}, "transform": [{"filter": "datum.p == 5"}], "mark": {"type": "area", "color": "#8a8af2", "clip": true, "interpolate": "monotone"}, "encoding": {"x": {"field": "t", "type": "quantitative", "title": null}, "y": {"field": "l1", "type": "quantitative", "title": null}, "y2": {"field": "h1"}}},
{"data": {"name": "fit"}, "transform": [{"filter": "datum.p == 5"}], "mark": {"type": "line", "color": "#0000ff", "strokeWidth": 1.8, "clip": true, "interpolate": "monotone"}, "encoding": {"x": {"field": "t", "type": "quantitative", "title": null}, "y": {"field": "mu", "type": "quantitative", "title": null}}},
{"data": {"name": "red"}, "transform": [{"filter": "datum.p == 5"}], "mark": {"type": "line", "color": "#ff0000", "strokeWidth": 2, "clip": true}, "encoding": {"x": {"field": "t", "type": "quantitative", "title": null}, "y": {"field": "v", "type": "quantitative", "title": null}, "detail": {"field": "k", "type": "nominal"}}},
{"data": {"name": "mon"}, "mark": {"type": "line", "color": "#000000", "strokeWidth": 2, "strokeDash": [2, 3.3], "clip": true}, "encoding": {"x": {"field": "t", "type": "quantitative", "title": null}, "y": {"field": "v", "type": "quantitative", "title": null}}},
{"data": {"name": "smo"}, "transform": [{"filter": "datum.t <= 2014.0"}], "mark": {"type": "line", "color": "#000000", "strokeWidth": 6, "clip": true, "strokeJoin": "round"}, "encoding": {"x": {"field": "t", "type": "quantitative", "title": null}, "y": {"field": "v", "type": "quantitative", "title": null}}},
{"data": {"values": [{"label": "5 years"}]}, "mark": {"type": "text", "fontSize": 17, "fontWeight": "bold", "align": "right", "baseline": "middle", "fill": "#000000", "font": "DejaVu Sans"}, "encoding": {"x": {"datum": 2019.45, "type": "quantitative"}, "y": {"datum": 145.5, "type": "quantitative"}, "text": {"field": "label", "type": "nominal"}}}
]
},
{
"width": 552, "height": 231,
"layer": [
{"data": {"name": "fit"}, "transform": [{"filter": "datum.p == 7"}], "mark": {"type": "area", "color": "#e0e0fb", "clip": true, "interpolate": "monotone"}, "encoding": {"x": {"field": "t", "type": "quantitative", "title": null, "scale": {"domain": [2009.05, 2019.89], "nice": false, "zero": false}, "axis": {"values": [2010,2011,2012,2013,2014,2015,2016,2017,2018,2019], "format": "d"}}, "y": {"field": "l3", "type": "quantitative", "title": null, "scale": {"domain": [0, 176], "nice": false}, "axis": {"values": [0, 50, 100, 150]}}, "y2": {"field": "h3"}}},
{"data": {"name": "fit"}, "transform": [{"filter": "datum.p == 7"}], "mark": {"type": "area", "color": "#b9b9f7", "clip": true, "interpolate": "monotone"}, "encoding": {"x": {"field": "t", "type": "quantitative", "title": null}, "y": {"field": "l2", "type": "quantitative", "title": null}, "y2": {"field": "h2"}}},
{"data": {"name": "fit"}, "transform": [{"filter": "datum.p == 7"}], "mark": {"type": "area", "color": "#8a8af2", "clip": true, "interpolate": "monotone"}, "encoding": {"x": {"field": "t", "type": "quantitative", "title": null}, "y": {"field": "l1", "type": "quantitative", "title": null}, "y2": {"field": "h1"}}},
{"data": {"name": "fit"}, "transform": [{"filter": "datum.p == 7"}], "mark": {"type": "line", "color": "#0000ff", "strokeWidth": 1.8, "clip": true, "interpolate": "monotone"}, "encoding": {"x": {"field": "t", "type": "quantitative", "title": null}, "y": {"field": "mu", "type": "quantitative", "title": null}}},
{"data": {"name": "red"}, "transform": [{"filter": "datum.p == 7"}], "mark": {"type": "line", "color": "#ff0000", "strokeWidth": 2, "clip": true}, "encoding": {"x": {"field": "t", "type": "quantitative", "title": null}, "y": {"field": "v", "type": "quantitative", "title": null}, "detail": {"field": "k", "type": "nominal"}}},
{"data": {"name": "mon"}, "mark": {"type": "line", "color": "#000000", "strokeWidth": 2, "strokeDash": [2, 3.3], "clip": true}, "encoding": {"x": {"field": "t", "type": "quantitative", "title": null}, "y": {"field": "v", "type": "quantitative", "title": null}}},
{"data": {"name": "smo"}, "transform": [{"filter": "datum.t <= 2016.0"}], "mark": {"type": "line", "color": "#000000", "strokeWidth": 6, "clip": true, "strokeJoin": "round"}, "encoding": {"x": {"field": "t", "type": "quantitative", "title": null}, "y": {"field": "v", "type": "quantitative", "title": null}}},
{"data": {"values": [{"label": "7 years"}]}, "mark": {"type": "text", "fontSize": 17, "fontWeight": "bold", "align": "right", "baseline": "middle", "fill": "#000000", "font": "DejaVu Sans"}, "encoding": {"x": {"datum": 2019.26, "type": "quantitative"}, "y": {"datum": 144, "type": "quantitative"}, "text": {"field": "label", "type": "nominal"}}}
]
},
{
"width": 552, "height": 231,
"layer": [
{"data": {"name": "fit"}, "transform": [{"filter": "datum.p == 9"}], "mark": {"type": "area", "color": "#e0e0fb", "clip": true, "interpolate": "monotone"}, "encoding": {"x": {"field": "t", "type": "quantitative", "title": null, "scale": {"domain": [2009.05, 2019.89], "nice": false, "zero": false}, "axis": {"values": [2010,2011,2012,2013,2014,2015,2016,2017,2018,2019], "format": "d"}}, "y": {"field": "l3", "type": "quantitative", "title": null, "scale": {"domain": [0, 176], "nice": false}, "axis": {"values": [0, 50, 100, 150]}}, "y2": {"field": "h3"}}},
{"data": {"name": "fit"}, "transform": [{"filter": "datum.p == 9"}], "mark": {"type": "area", "color": "#b9b9f7", "clip": true, "interpolate": "monotone"}, "encoding": {"x": {"field": "t", "type": "quantitative", "title": null}, "y": {"field": "l2", "type": "quantitative", "title": null}, "y2": {"field": "h2"}}},
{"data": {"name": "fit"}, "transform": [{"filter": "datum.p == 9"}], "mark": {"type": "area", "color": "#8a8af2", "clip": true, "interpolate": "monotone"}, "encoding": {"x": {"field": "t", "type": "quantitative", "title": null}, "y": {"field": "l1", "type": "quantitative", "title": null}, "y2": {"field": "h1"}}},
{"data": {"name": "fit"}, "transform": [{"filter": "datum.p == 9"}], "mark": {"type": "line", "color": "#0000ff", "strokeWidth": 1.8, "clip": true, "interpolate": "monotone"}, "encoding": {"x": {"field": "t", "type": "quantitative", "title": null}, "y": {"field": "mu", "type": "quantitative", "title": null}}},
{"data": {"name": "red"}, "transform": [{"filter": "datum.p == 9"}], "mark": {"type": "line", "color": "#ff0000", "strokeWidth": 2, "clip": true}, "encoding": {"x": {"field": "t", "type": "quantitative", "title": null}, "y": {"field": "v", "type": "quantitative", "title": null}, "detail": {"field": "k", "type": "nominal"}}},
{"data": {"name": "mon"}, "mark": {"type": "line", "color": "#000000", "strokeWidth": 2, "strokeDash": [2, 3.3], "clip": true}, "encoding": {"x": {"field": "t", "type": "quantitative", "title": null}, "y": {"field": "v", "type": "quantitative", "title": null}}},
{"data": {"name": "smo"}, "transform": [{"filter": "datum.t <= 2018.0"}], "mark": {"type": "line", "color": "#000000", "strokeWidth": 6, "clip": true, "strokeJoin": "round"}, "encoding": {"x": {"field": "t", "type": "quantitative", "title": null}, "y": {"field": "v", "type": "quantitative", "title": null}}},
{"data": {"values": [{"label": "9 years"}]}, "mark": {"type": "text", "fontSize": 17, "fontWeight": "bold", "align": "right", "baseline": "middle", "fill": "#000000", "font": "DejaVu Sans"}, "encoding": {"x": {"datum": 2019.45, "type": "quantitative"}, "y": {"datum": 144, "type": "quantitative"}, "text": {"field": "label", "type": "nominal"}}}
]
}
],
"config": {
"font": "DejaVu Sans",
"view": {"stroke": "#000000", "strokeWidth": 1.3},
"axis": {"grid": false, "domain": false, "tickColor": "#000000", "tickSize": 7, "tickWidth": 1.2, "labelColor": "#000000", "labelFontSize": 15, "labelFont": "DejaVu Sans", "labelFlush": false},
"axisX": {"labelPadding": 7},
"axisY": {"labelPadding": 7}
}
}
